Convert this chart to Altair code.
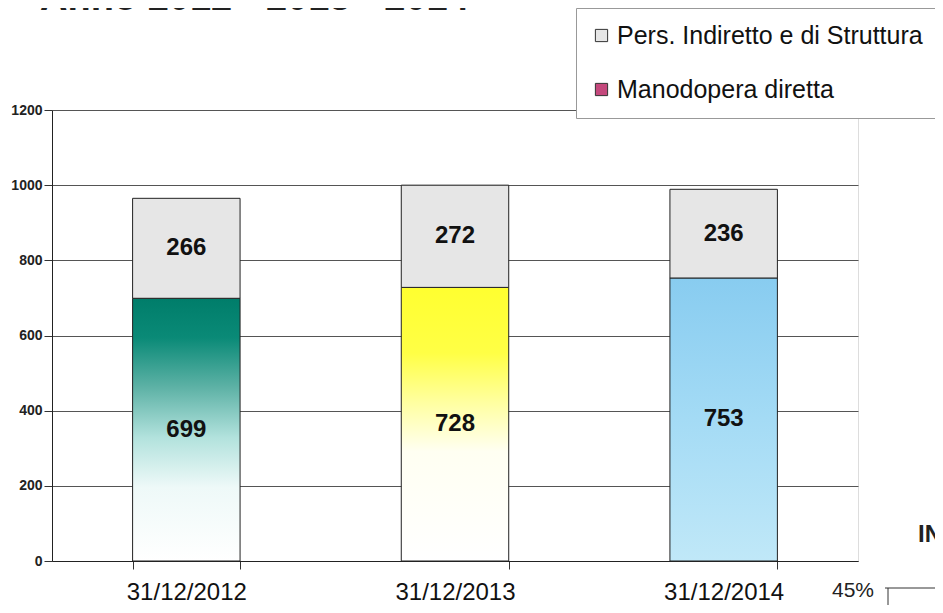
import altair as alt
import pandas as pd

dates = ["31/12/2012", "31/12/2013", "31/12/2014"]
diretta = [699, 728, 753]
indiretto = [266, 272, 236]
series = ["Pers. Indiretto e di Struttura", "Manodopera diretta"]
legend_colors = ["#e6e6e6", "#c4487c"]
y_ticks = [0, 200, 400, 600, 800, 1000, 1200]
title_text = "Anno 2012 - 2013 - 2014"

rows = []
for d, a, b in zip(dates, diretta, indiretto):
    rows.append({"date": d, "series": series[1], "start": 0, "end": a, "value": a, "mid": a / 2})
    rows.append({"date": d, "series": series[0], "start": a, "end": a + b, "value": b, "mid": a + b / 2})
df = pd.DataFrame(rows)

FONT = "Liberation Sans, Arial"

x_enc = alt.X(
    "date:N",
    sort=dates,
    title=None,
    scale=alt.Scale(paddingInner=0.6, paddingOuter=0.3),
    axis=alt.Axis(
        labelAngle=0, labelFontSize=24, labelFont=FONT, labelColor="#111",
        tickBand="extent", tickSize=8, tickColor="#333", domainColor="#222",
        labelPadding=11, grid=False,
    ),
)
y_scale = alt.Scale(domain=[0, 1200], nice=False)

def grad(stops):
    return alt.Gradient(
        gradient="linear",
        stops=[alt.GradientStop(offset=o, color=c) for o, c in stops],
        x1=0, x2=0, y1=1, y2=0,
    )

gradients = [
    grad([(0, "#ffffff"), (0.28, "#eef9f8"), (0.47, "#b2e2dd"), (0.66, "#5eb2a6"), (0.85, "#0a8a77"), (1, "#007d6a")]),
    grad([(0, "#ffffff"), (0.40, "#fffff2"), (0.58, "#ffffa0"), (0.76, "#ffff45"), (1, "#ffff30")]),
    grad([(0, "#c0e8f8"), (0.5, "#a4dbf5"), (1, "#88ccf0")]),
]

base = alt.Chart(df)

bottom_layers = []
for d, g in zip(dates, gradients):
    bottom_layers.append(
        base.transform_filter(
            (alt.datum.date == d) & (alt.datum.series == series[1])
        ).mark_bar(fill=g, stroke="#222", strokeWidth=1).encode(
            x=x_enc,
            y=alt.Y("start:Q", scale=y_scale),
            y2="end:Q",
        )
    )

top_bars = base.transform_filter(alt.datum.series == series[0]).mark_bar(
    stroke="#222", strokeWidth=1
).encode(
    x=x_enc,
    y=alt.Y(
        "start:Q",
        scale=y_scale,
        title=None,
        axis=alt.Axis(
            values=y_ticks, format="d", labelFontSize=14, labelFont=FONT, labelFontWeight="bold",
            labelColor="#222", tickSize=8, tickColor="#333", domainColor="#222",
            gridColor="#555", gridWidth=1, labelPadding=2,
        ),
    ),
    y2="end:Q",
    color=alt.Color(
        "series:N",
        scale=alt.Scale(domain=series, range=legend_colors),
        legend=alt.Legend(
            title=None, orient="none", legendX=524, legendY=-102,
            symbolType="square", symbolSize=150, symbolStrokeColor="#333",
            symbolStrokeWidth=1, labelFontSize=25, labelFont=FONT, labelColor="#111",
            fillColor="white", strokeColor="#999", padding=15, rowPadding=28,
            labelOffset=3, symbolOffset=-2, labelLimit=600,
        ),
    ),
)

labels = base.mark_text(fontSize=24, fontWeight="bold", font=FONT, color="#111").encode(
    x=alt.X("date:N", sort=dates),
    y=alt.Y("mid:Q", scale=y_scale),
    text="value:Q",
)

title_df = pd.DataFrame({"t": [title_text]})
title_mark = alt.Chart(title_df).mark_text(
    fontSize=38, fontWeight="bold", font=FONT, color="#222", align="left", baseline="alphabetic"
).encode(x=alt.value(-12), y=alt.value(-100), text="t:N")

frag_df = pd.DataFrame({"a": ["IN"], "b": ["45%"]})
frag_in = alt.Chart(frag_df).mark_text(
    fontSize=24, fontWeight="bold", font=FONT, color="#222", align="left", baseline="alphabetic"
).encode(x=alt.value(866), y=alt.value(432), text="a:N")
frag_pct = alt.Chart(frag_df).mark_text(
    fontSize=21, font=FONT, color="#222", align="left", baseline="alphabetic"
).encode(x=alt.value(780), y=alt.value(487), text="b:N")
frag_h = alt.Chart(frag_df).mark_rule(color="#333", strokeWidth=1).encode(
    x=alt.value(833), x2=alt.value(895), y=alt.value(478)
)
frag_v = alt.Chart(frag_df).mark_rule(color="#333", strokeWidth=1).encode(
    x=alt.value(836), y=alt.value(478), y2=alt.value(500)
)

chart = alt.layer(
    *bottom_layers, top_bars, labels, title_mark, frag_in, frag_pct, frag_h, frag_v
).properties(
    width=806, height=451,
    autosize=alt.AutoSizeParams(type="none"),
    padding={"left": 44, "top": 102, "right": 77, "bottom": 44},
).configure_view(stroke="#333", strokeWidth=1).configure(background="white")

chart.save("out.html", embed_options={"renderer": "svg", "actions": False})
